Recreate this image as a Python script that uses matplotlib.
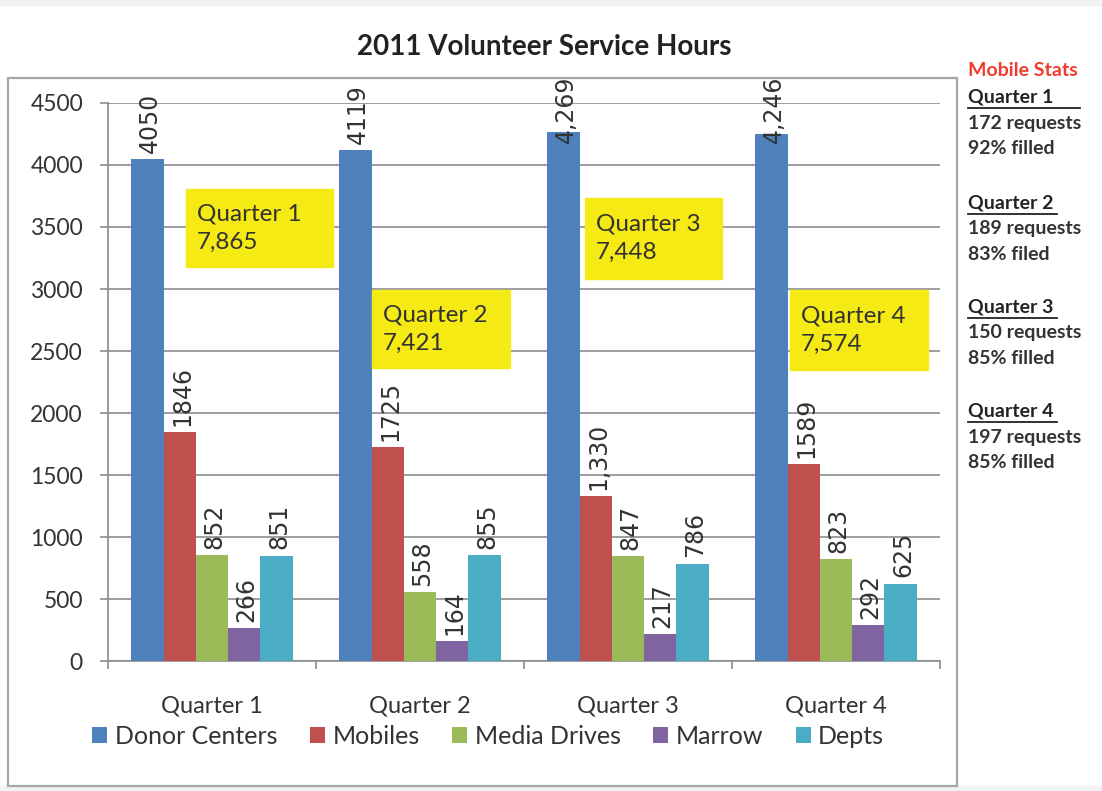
import matplotlib
matplotlib.use("Agg")
import matplotlib.pyplot as plt
from matplotlib.patches import Rectangle
from matplotlib.lines import Line2D
import numpy as np

plt.rcParams['font.family'] = ['Lato', 'DejaVu Sans']

# data
quarters = ["Quarter 1", "Quarter 2", "Quarter 3", "Quarter 4"]
series = ["Donor Centers", "Mobiles", "Media Drives", "Marrow", "Depts"]
donor = [4050, 4119, 4269, 4246]
mobiles = [1846, 1725, 1330, 1589]
media = [852, 558, 847, 823]
marrow = [266, 164, 217, 292]
depts = [851, 855, 786, 625]
# value labels as printed on the chart (some have thousands separators)
donor_lbl = ["4050", "4119", "4,269", "4,246"]
mobiles_lbl = ["1846", "1725", "1,330", "1589"]
media_lbl = ["852", "558", "847", "823"]
marrow_lbl = ["266", "164", "217", "292"]
depts_lbl = ["851", "855", "786", "625"]
totals = ["7,865", "7,421", "7,448", "7,574"]
yticks = [0, 500, 1000, 1500, 2000, 2500, 3000, 3500, 4000, 4500]

stat_heads = ["Quarter 1", "Quarter 2", "Quarter 3", "Quarter 4"]
stat_requests = ["172 requests", "189 requests", "150 requests", "197 requests"]
stat_filled = ["92% filled", "83% filed", "85% filled", "85% filled"]

colors = ["#4F81BD", "#C0504D", "#9BBB59", "#8064A2", "#4BACC6"]
values = [donor, mobiles, media, marrow, depts]
labels = [donor_lbl, mobiles_lbl, media_lbl, marrow_lbl, depts_lbl]

fig = plt.figure(figsize=(11.02, 7.91), dpi=100)
ax = fig.add_axes([0.098, 0.1643, 0.755, 0.7055])

# light strips at the top and bottom of the screenshot
fig.add_artist(Rectangle((0, 0.994), 1, 0.006, transform=fig.transFigure,
                         color="#f1f2f4", zorder=0))
fig.add_artist(Rectangle((0, 0), 1, 0.006, transform=fig.transFigure,
                         color="#f1f2f4", zorder=0))
# outer chart border
fig.add_artist(Rectangle((0.0073, 0.0063), 0.861, 0.895, transform=fig.transFigure,
                         fill=False, edgecolor="#a6a6a6", lw=1.6, zorder=0))

x = np.arange(len(quarters))
w = 0.155
for i, (vals, lbls) in enumerate(zip(values, labels)):
    xs = x + (i - 2) * w
    ax.bar(xs, vals, width=w, color=colors[i], label=series[i], zorder=3)
    for xi, v, t in zip(xs, vals, lbls):
        # labels that would run past the chart top are pulled down onto the bar
        ly = min(v + 50, 4180)
        ax.text(xi + 0.012, ly, t, rotation=90, ha="center", va="bottom",
                fontsize=17, family="DejaVu Sans", color="#333333",
                clip_on=False, zorder=4)

ax.set_xlim(-0.5, 3.5)
ax.set_ylim(0, 4500)
ax.set_yticks(yticks)
ax.set_yticklabels([str(t) for t in yticks], fontsize=16.5, color="#333333")
ax.yaxis.grid(True, color="#8c8c8c", lw=1.2, zorder=0)
ax.set_axisbelow(True)

ax.set_xticks(x)
ax.set_xticklabels(quarters, fontsize=17, color="#333333")
ax.set_xticks(np.arange(-0.5, 3.6, 1), minor=True)
ax.tick_params(axis="x", which="major", length=0, pad=25)
ax.tick_params(axis="x", which="minor", length=6, color="#8c8c8c", width=1.2)
ax.tick_params(axis="y", length=6, color="#8c8c8c", width=1.2, pad=12)

for s in ["top", "right"]:
    ax.spines[s].set_visible(False)
for s in ["left", "bottom"]:
    ax.spines[s].set_color("#8c8c8c")
    ax.spines[s].set_linewidth(1.2)

# yellow total boxes (axes fraction)
boxes = [(0.0938, 0.706, 0.1766, 0.140),
         (0.317, 0.525, 0.166, 0.140),
         (0.573, 0.685, 0.165, 0.145),
         (0.820, 0.522, 0.166, 0.143)]
for (bx, by, bw, bh), q, tot in zip(boxes, quarters, totals):
    ax.add_patch(Rectangle((bx, by), bw, bh, transform=ax.transAxes,
                           color="#f5ea14", zorder=5, clip_on=False))
    ax.text(bx + 0.013, by + bh / 2, q + "\n" + tot, transform=ax.transAxes,
            ha="left", va="center", fontsize=17.5, color="#333333",
            linespacing=1.45, zorder=6)

# legend
ax.legend(loc="center", bbox_to_anchor=(0.443, 0.069), bbox_transform=fig.transFigure,
          ncol=5, frameon=False, fontsize=18, handlelength=0.6, handleheight=0.6,
          handletextpad=0.3, columnspacing=1.3, labelcolor="#333333")

# title
fig.text(0.494, 0.941, "2011 Volunteer Service Hours", ha="center", va="center",
         fontsize=20, fontweight="bold", color="#222222")

# mobile stats side panel
sx = 0.878
fig.text(sx, 1 - 71 / 791, "Mobile Stats", ha="left", va="center", fontsize=14,
         fontweight="bold", color="#f03c2d")
group_y = [97, 203, 307, 411]
for k, gy in enumerate(group_y):
    y0 = 1 - gy / 791
    fig.text(sx, y0, stat_heads[k], ha="left", va="center", fontsize=14,
             fontweight="bold", color="#222222")
    ul_end = 0.980 if k == 0 else 0.959
    fig.add_artist(Line2D([sx, ul_end], [y0 - 0.0135, y0 - 0.0135],
                          transform=fig.transFigure, color="#222222", lw=1.3))
    fig.text(sx, y0 - 26 / 791, stat_requests[k], ha="left", va="center",
             fontsize=14, fontweight="bold", color="#333333")
    fig.text(sx, y0 - 51 / 791, stat_filled[k], ha="left", va="center",
             fontsize=14, fontweight="bold", color="#333333")

fig.savefig("out.png", dpi=100, facecolor="white")
